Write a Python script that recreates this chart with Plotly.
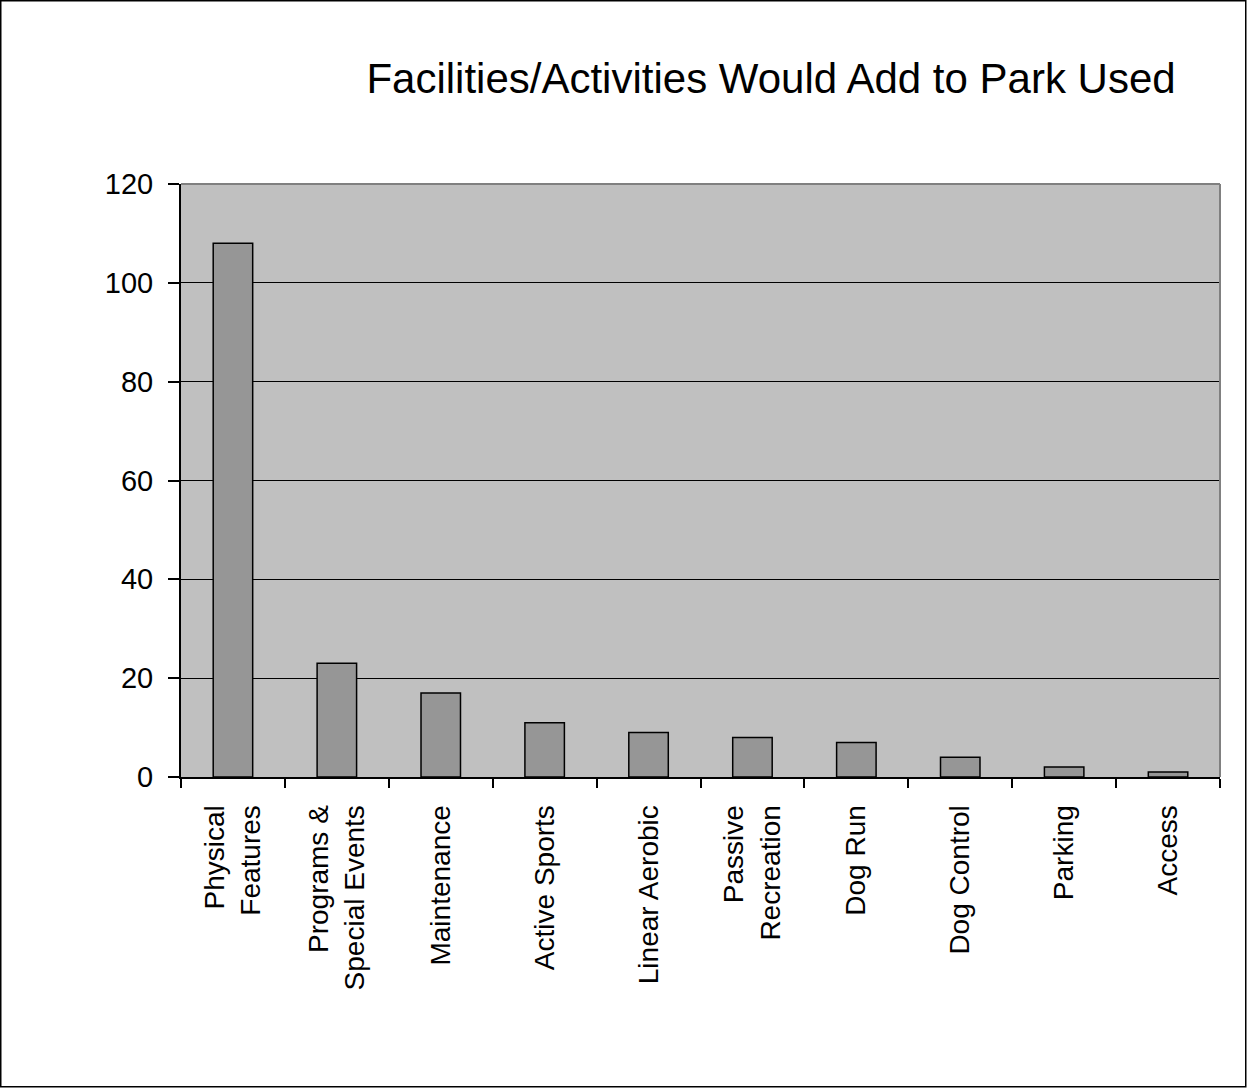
import plotly.graph_objects as go

categories = ["Physical<br>Features", "Programs &<br>Special Events", "Maintenance",
              "Active Sports", "Linear Aerobic", "Passive<br>Recreation", "Dog Run",
              "Dog Control", "Parking", "Access"]
values = [108, 23, 17, 11, 9, 8, 7, 4, 2, 1]
y_ticks = [0, 20, 40, 60, 80, 100, 120]
title_text = "Facilities/Activities Would Add to Park Used"

W, H = 1247, 1088
L, R, T, B = 181, 27, 184, 311
pw, ph = W - L - R, H - T - B

FONT = "Liberation Sans, Arial, sans-serif"

fig = go.Figure()
fig.add_trace(go.Bar(
    x=categories, y=values,
    marker=dict(color="#969696", line=dict(color="black", width=1.5)),
    hoverinfo="x+y",
))

def px_x(p):
    return (p - L) / pw

def px_y(p):
    return 1 - (p - T) / ph

shapes = [
    # gray top/right border of plot area
    dict(type="line", xref="paper", yref="paper", x0=0, x1=1, y0=1, y1=1,
         line=dict(color="#808080", width=2), layer="above"),
    dict(type="line", xref="paper", yref="paper", x0=1, x1=1, y0=0, y1=1,
         line=dict(color="#808080", width=2), layer="above"),
    # outer chart border
    dict(type="rect", xref="paper", yref="paper",
         x0=px_x(0.75), x1=px_x(W - 1.25), y0=px_y(H - 1.25), y1=px_y(0.75),
         line=dict(color="black", width=1.5), fillcolor="rgba(0,0,0,0)", layer="above"),
]

fig.update_layout(
    width=W, height=H,
    margin=dict(l=L, r=R, t=T, b=B, autoexpand=False),
    paper_bgcolor="white", plot_bgcolor="#C0C0C0",
    font=dict(family=FONT, color="black", size=29),
    title=dict(text=title_text, font=dict(size=42, family=FONT, color="black"),
               x=771 / W, xref="container", xanchor="center",
               y=1 - 78 / H, yref="container", yanchor="middle"),
    bargap=0.62,
    showlegend=False,
    shapes=shapes,
    xaxis=dict(
        type="category", tickangle=-90, tickson="boundaries",
        ticks="outside", ticklen=9, tickwidth=1.5, tickcolor="black",
        showline=True, linecolor="black", linewidth=2,
        showgrid=False, tickfont=dict(size=28, family=FONT, color="black"),
        ticklabelstandoff=15,
    ),
    yaxis=dict(
        range=[0, 120], tickvals=y_ticks, ticktext=[str(v) for v in y_ticks],
        ticks="outside", ticklen=11, tickwidth=1.5, tickcolor="black",
        showline=True, linecolor="black", linewidth=2,
        showgrid=True, gridcolor="black", gridwidth=1,
        zeroline=False, tickfont=dict(size=29, family=FONT, color="black"),
        ticklabelstandoff=9,
    ),
)

fig.write_html("out.html", config={"displayModeBar": False},
               post_script="document.body.style.margin='0';document.body.style.overflow='hidden';")
